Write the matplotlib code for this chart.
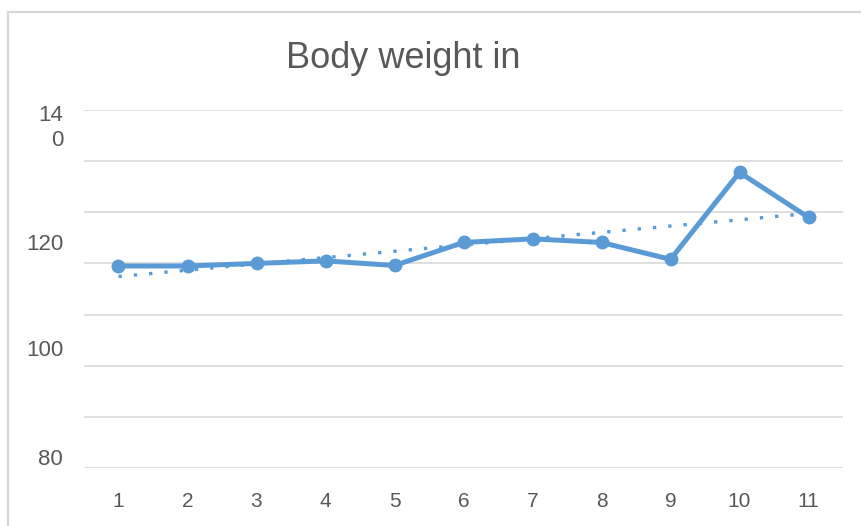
import matplotlib
matplotlib.use("Agg")
import matplotlib.pyplot as plt
from matplotlib.lines import Line2D
import numpy as np

plt.rcParams['font.family'] = ['Liberation Sans', 'DejaVu Sans']

# data
days = [1, 2, 3, 4, 5, 6, 7, 8, 9, 10, 11]
weight = [119.5, 119.5, 120.0, 120.5, 119.6, 124.1, 124.8, 124.1, 120.8, 137.8, 129.0]

# gridlines every 10, labels drawn where the original put them (a bit off)
grid_vals = [80, 90, 100, 110, 120, 130, 140, 150]
ylab_pos = [82.2, 103.5, 124.2, 147.3]
ylab_txt = ['80', '100', '120', '14\n0']

title = "Body weight in"
blue = '#5B9BD5'
grey_txt = '#595959'
grid_col = '#D9D9D9'

fig = plt.figure(figsize=(8.62, 5.26), dpi=100)
ax = fig.add_axes([84/862, 1 - 468/526, (843 - 84)/862, (468 - 110)/526])

# linear trendline
k, b = np.polyfit(days, weight, 1)
trend = [k * d + b for d in days]
ax.plot(days, trend, color=blue, lw=2.4, linestyle=(0, (1, 3.6)),
        dash_capstyle='butt', zorder=2)

ax.plot(days, weight, color=blue, lw=3.6, marker='o', markersize=9, zorder=3)

ax.set_xlim(0.5, 11.5)
ax.set_ylim(80, 150)
ax.set_xticks(days)
ax.set_xticklabels([str(d) for d in days], fontsize=15, color=grey_txt)
ax.set_yticks(grid_vals, minor=True)
ax.set_yticks(ylab_pos)
ax.set_yticklabels(ylab_txt, fontsize=16, color=grey_txt, multialignment='right')
ax.grid(which='minor', axis='y', color=grid_col, lw=1.2)
ax.tick_params(axis='both', which='both', length=0)
ax.tick_params(axis='x', pad=17)
ax.tick_params(axis='y', pad=15)
for s in ax.spines.values():
    s.set_visible(False)

fig.text(403/862, 1 - 59/526, title, fontsize=26, color=grey_txt,
         ha='center', va='center')

# chart area border (left and top only visible)
fig.add_artist(Line2D([8/862, 8/862], [0, 1 - 11.5/526], color=grid_col, lw=1.6))
fig.add_artist(Line2D([8/862, 1], [1 - 11.5/526, 1 - 11.5/526], color=grid_col, lw=1.6))

fig.savefig('out.png', dpi=100)
